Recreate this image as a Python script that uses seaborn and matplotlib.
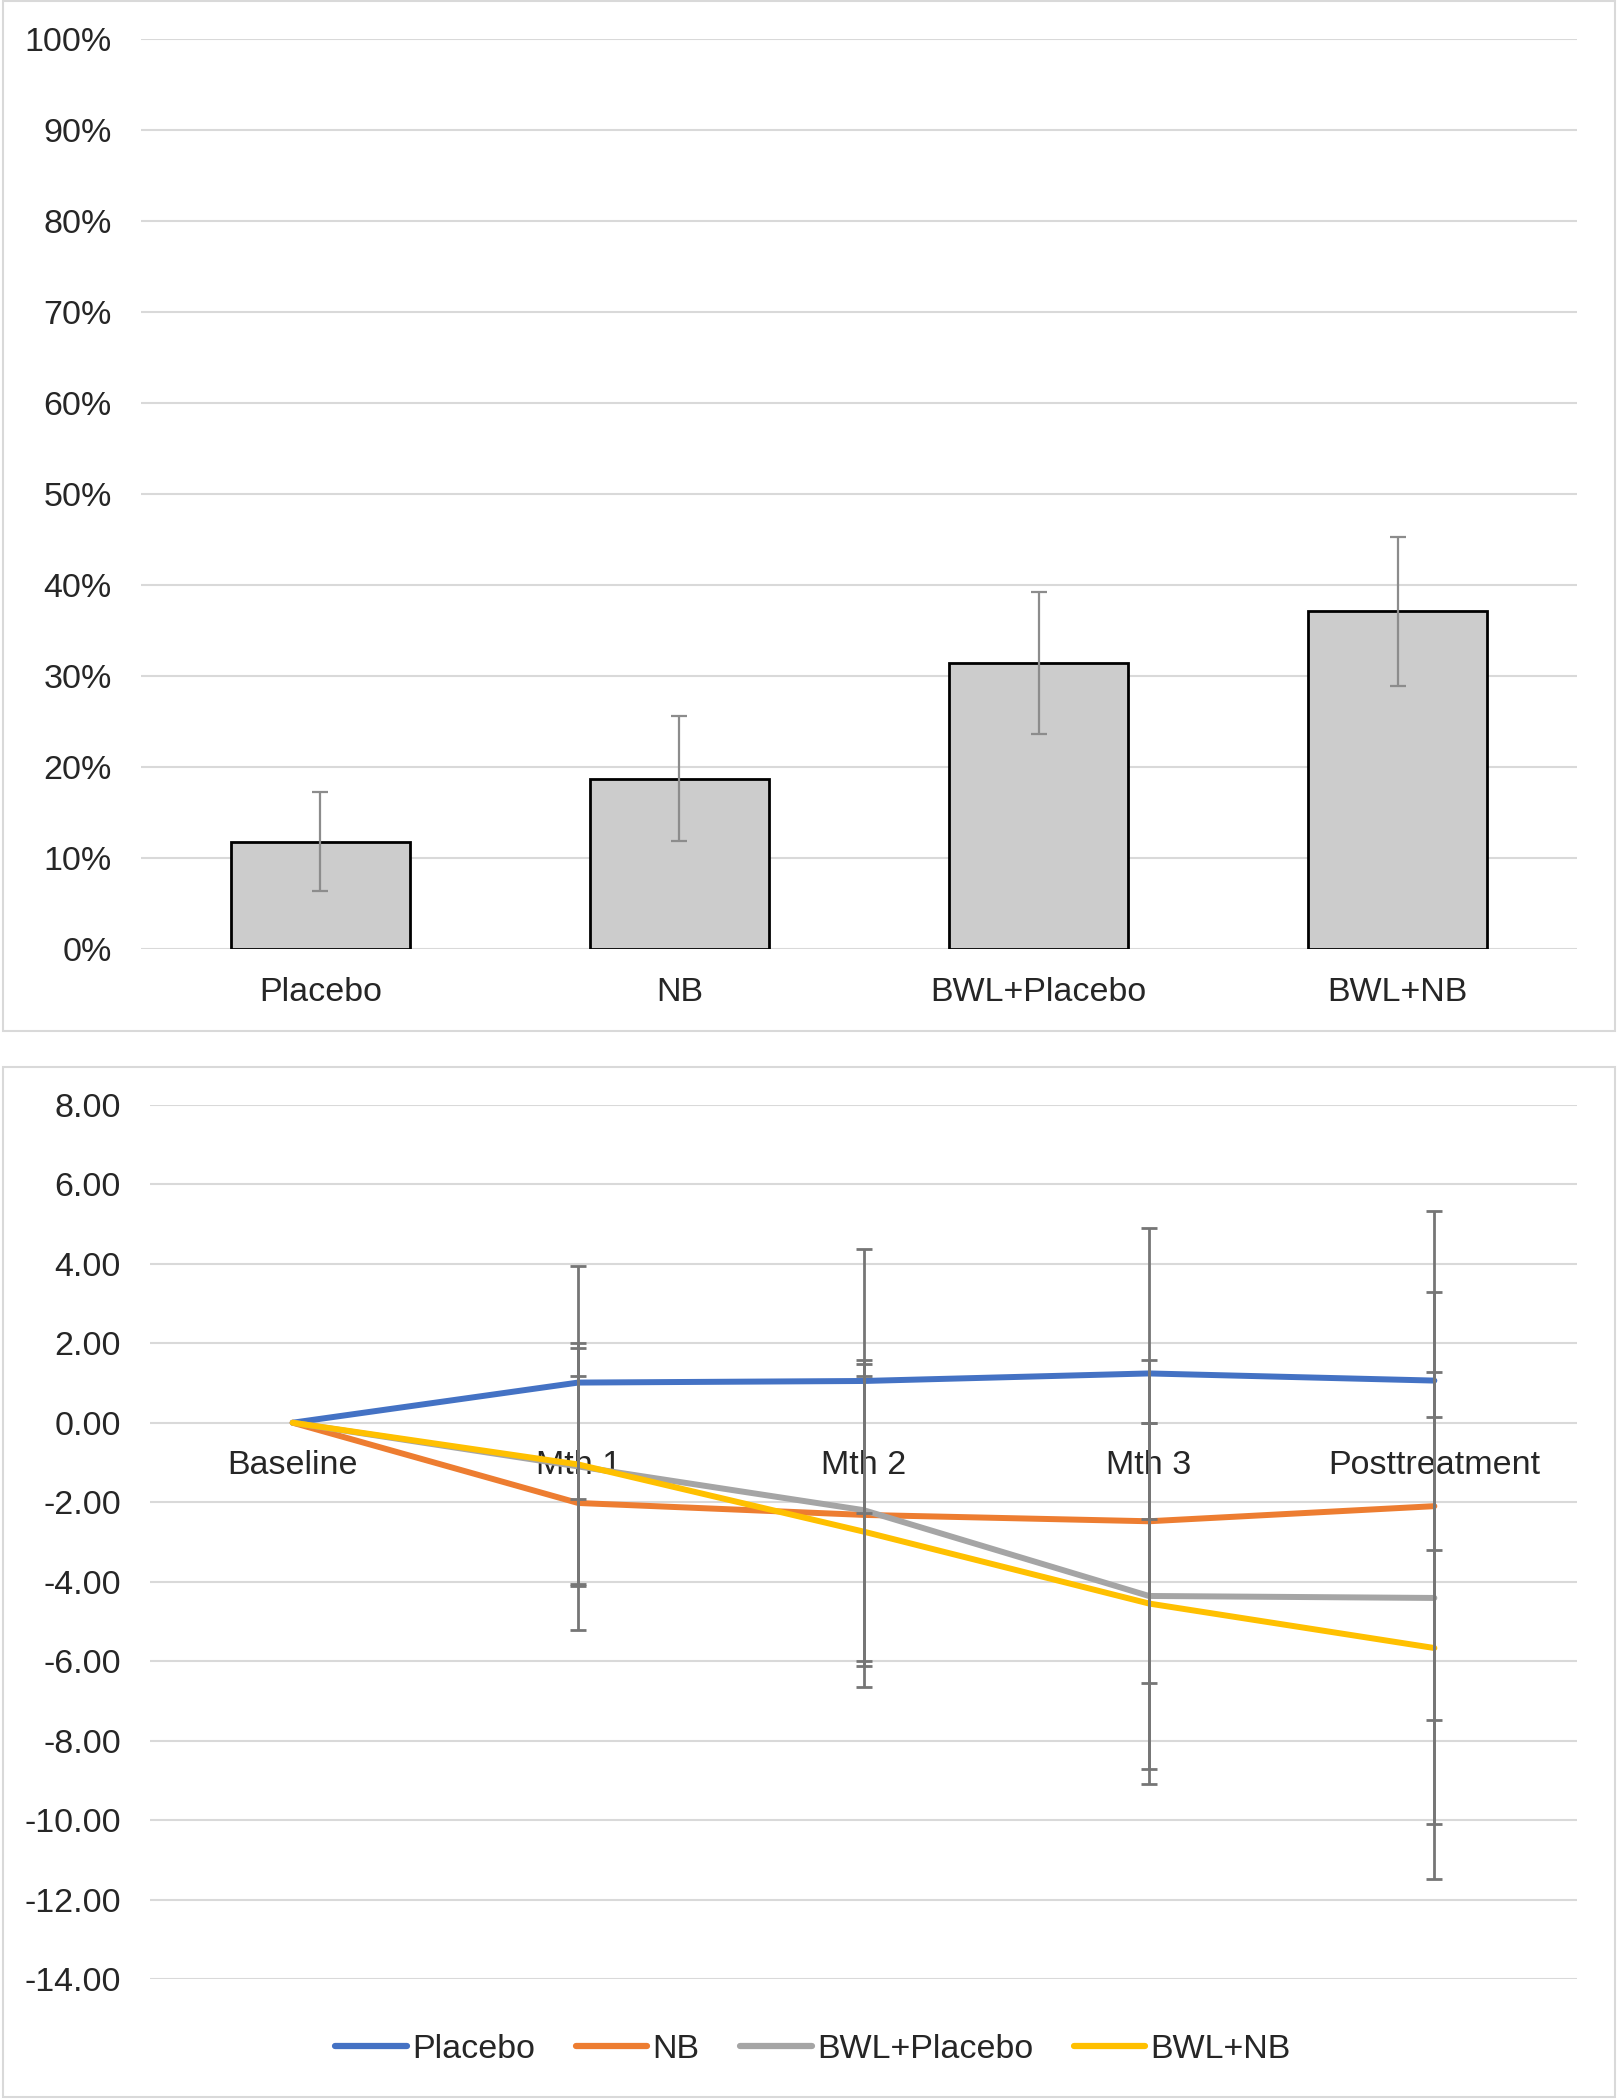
import numpy as np
import pandas as pd
import seaborn as sns
import matplotlib.pyplot as plt
from matplotlib.patches import Rectangle
from matplotlib.ticker import PercentFormatter, StrMethodFormatter

# top chart: % responders
groups = ["Placebo", "NB", "BWL+Placebo", "BWL+NB"]
pct = [11.8, 18.7, 31.4, 37.1]
pct_err = [5.45, 6.85, 7.8, 8.2]

# bottom chart: change over time
timepoints = ["Baseline", "Mth 1", "Mth 2", "Mth 3", "Posttreatment"]
placebo = [0.0, 1.01, 1.05, 1.24, 1.06]
nb = [0.0, -2.02, -2.32, -2.48, -2.10]
bwl_placebo = [0.0, -1.10, -2.20, -4.36, -4.41]
bwl_nb = [0.0, -1.05, -2.74, -4.55, -5.67]
placebo_err = [0.0, 2.94, 3.32, 3.66, 4.26]
nb_err = [0.0, 3.20, 3.81, 4.06, 5.39]
bwl_placebo_err = [0.0, 2.97, 3.79, 4.36, 5.69]
bwl_nb_err = [0.0, 3.05, 3.92, 4.55, 5.82]

colors = {"Placebo": "#4472C4", "NB": "#ED7D31",
          "BWL+Placebo": "#A5A5A5", "BWL+NB": "#FFC000"}

sns.set_style("white")
plt.rcParams["font.family"] = ["Liberation Sans", "DejaVu Sans"]
plt.rcParams["axes.unicode_minus"] = False

FS = 24.5
GRID = "#d9d9d9"

fig = plt.figure(figsize=(16.18, 21), dpi=100)

# panel frames
for y0, h in [(0.509, 0.4905), (0.0014, 0.4905)]:
    fig.patches.append(Rectangle((0.002, y0), 0.996, h, transform=fig.transFigure,
                                 fill=False, edgecolor=GRID, lw=1.5))

# ---- top: bar chart ----
ax1 = fig.add_axes([0.0871, 0.5481, 0.8876, 0.4334])
df1 = pd.DataFrame({"group": groups, "pct": pct})
sns.barplot(data=df1, x="group", y="pct", color="#cccccc", saturation=1,
            edgecolor="black", linewidth=2, width=0.5, errorbar=None, ax=ax1, zorder=3)
ax1.errorbar(range(len(groups)), pct, yerr=pct_err, fmt="none", ecolor="#8c8c8c",
             elinewidth=1.6, capsize=5.5, capthick=1.6, zorder=4)
ax1.set_xlim(-0.5, 3.5)
ax1.set_ylim(0, 100)
ax1.set_yticks(np.arange(0, 101, 10))
ax1.yaxis.set_major_formatter(PercentFormatter(decimals=0))
ax1.grid(True, axis="y", color=GRID, lw=1.5, zorder=0)
ax1.set_axisbelow(True)
for s in ax1.spines.values():
    s.set_visible(False)
ax1.tick_params(axis="both", length=0, labelsize=FS)
ax1.tick_params(axis="x", pad=20)
ax1.tick_params(axis="y", pad=21)
ax1.set_xlabel("")
ax1.set_ylabel("")

# ---- bottom: line chart ----
ax2 = fig.add_axes([0.0927, 0.0576, 0.882, 0.4163])
series = {"Placebo": (placebo, placebo_err), "NB": (nb, nb_err),
          "BWL+Placebo": (bwl_placebo, bwl_placebo_err), "BWL+NB": (bwl_nb, bwl_nb_err)}
rows = []
for name, (vals, _) in series.items():
    for i, v in enumerate(vals):
        rows.append({"pos": i, "value": v, "group": name})
df2 = pd.DataFrame(rows)
sns.lineplot(data=df2, x="pos", y="value", hue="group", palette=colors,
             linewidth=4.3, ax=ax2, zorder=3)
for name, (vals, errs) in series.items():
    ax2.errorbar(range(1, len(timepoints)), vals[1:], yerr=errs[1:], fmt="none",
                 ecolor="#767676", elinewidth=2, capsize=5.5, capthick=2, zorder=4)
ax2.set_xlim(-0.5, 4.5)
ax2.set_ylim(-14, 8)
ax2.set_yticks(np.arange(-14, 8.1, 2))
ax2.yaxis.set_major_formatter(StrMethodFormatter("{x:.2f}"))
ax2.set_xticks(range(len(timepoints)))
ax2.set_xticklabels(timepoints)
ax2.grid(True, axis="y", color=GRID, lw=1.5, zorder=0)
ax2.set_axisbelow(True)
ax2.spines["bottom"].set_position(("data", 0))
for s in ax2.spines.values():
    s.set_visible(False)
ax2.tick_params(axis="both", length=0, labelsize=FS)
ax2.tick_params(axis="x", pad=20)
ax2.tick_params(axis="y", pad=21)
ax2.set_xlabel("")
ax2.set_ylabel("")

ax2.legend(loc="center", bbox_to_anchor=(0.5025, 0.0240), bbox_transform=fig.transFigure,
           ncol=4, frameon=False, fontsize=FS, handlelength=2.1, handletextpad=0.15,
           columnspacing=1.2)
for line in ax2.get_legend().get_lines():
    line.set_linewidth(4.5)

fig.savefig("out.png", dpi=100)
